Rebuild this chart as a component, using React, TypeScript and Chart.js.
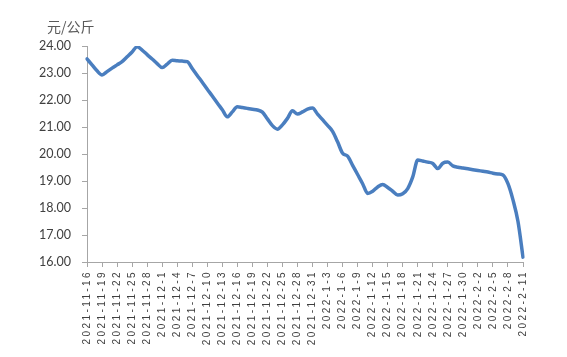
import React, { useEffect, useRef } from "react";
import { Chart, registerables } from "chart.js";

Chart.register(...registerables);

const dates: string[] = [
  "2021-11-16","2021-11-17","2021-11-18","2021-11-19","2021-11-20","2021-11-21","2021-11-22","2021-11-23","2021-11-24","2021-11-25",
  "2021-11-26","2021-11-27","2021-11-28","2021-11-29","2021-11-30",
  "2021-12-1","2021-12-2","2021-12-3","2021-12-4","2021-12-5","2021-12-6","2021-12-7","2021-12-8","2021-12-9","2021-12-10",
  "2021-12-11","2021-12-12","2021-12-13","2021-12-14","2021-12-15","2021-12-16","2021-12-17","2021-12-18","2021-12-19","2021-12-20",
  "2021-12-21","2021-12-22","2021-12-23","2021-12-24","2021-12-25","2021-12-26","2021-12-27","2021-12-28","2021-12-29","2021-12-30","2021-12-31",
  "2022-1-1","2022-1-2","2022-1-3","2022-1-4","2022-1-5","2022-1-6","2022-1-7","2022-1-8","2022-1-9","2022-1-10",
  "2022-1-11","2022-1-12","2022-1-13","2022-1-14","2022-1-15","2022-1-16","2022-1-17","2022-1-18","2022-1-19","2022-1-20",
  "2022-1-21","2022-1-22","2022-1-23","2022-1-24","2022-1-25","2022-1-26","2022-1-27","2022-1-28","2022-1-29","2022-1-30","2022-1-31",
  "2022-2-1","2022-2-2","2022-2-3","2022-2-4","2022-2-5","2022-2-6","2022-2-7","2022-2-8","2022-2-9","2022-2-10","2022-2-11",
];

const prices: number[] = [
  23.52, 23.30, 23.08, 22.93, 23.05, 23.18, 23.30, 23.42, 23.60, 23.78,
  23.97, 23.85, 23.68, 23.52, 23.35,
  23.20, 23.33, 23.47, 23.45, 23.44, 23.42, 23.17, 22.91, 22.66, 22.40,
  22.15, 21.89, 21.64, 21.38, 21.56, 21.75, 21.72, 21.69, 21.66, 21.63,
  21.55, 21.30, 21.05, 20.92, 21.08, 21.32, 21.60, 21.48, 21.56, 21.66, 21.70,
  21.48, 21.27, 21.06, 20.84, 20.45, 20.03, 19.92, 19.58, 19.24, 18.90,
  18.54, 18.62, 18.78, 18.87, 18.76, 18.62, 18.48, 18.53, 18.72, 19.15,
  19.78, 19.74, 19.70, 19.65, 19.46, 19.66, 19.70, 19.56, 19.51, 19.48, 19.45,
  19.42, 19.39, 19.36, 19.33, 19.29, 19.26, 19.22, 18.90, 18.30, 17.50, 16.18,
];

const yMin = 16;
const yMax = 24;
const yStep = 1;
const unitLabel = "元/公斤";
const labelEvery = 3;

export default function App() {
  const ref = useRef<HTMLCanvasElement | null>(null);

  useEffect(() => {
    if (!ref.current) return;

    const unitPlugin = {
      id: "unitLabel",
      afterDraw(chart: any) {
        const ctx = chart.ctx;
        ctx.save();
        ctx.font = '14px "Noto Sans CJK SC"';
        ctx.fillStyle = "#595959";
        ctx.textAlign = "left";
        ctx.textBaseline = "alphabetic";
        ctx.fillText(unitLabel, 47, 32);
        ctx.restore();
      },
    };

    const spacingPlugin = {
      id: "xLetterSpacing",
      beforeDraw(chart: any) {
        const s = chart.scales.x;
        if (s && !s.__patched) {
          const orig = s.drawLabels.bind(s);
          s.drawLabels = (area: any) => {
            const ctx = chart.ctx;
            ctx.save();
            (ctx as any).letterSpacing = "2.4px";
            orig(area);
            ctx.restore();
          };
          s.__patched = true;
        }
      },
    };

    const chart = new Chart(ref.current, {
      type: "line",
      data: {
        labels: dates,
        datasets: [
          {
            data: prices,
            borderColor: "#4A7EBF",
            borderWidth: 3.5,
            pointRadius: 0,
            fill: false,
            cubicInterpolationMode: "monotone",
            borderCapStyle: "round",
            borderJoinStyle: "round",
          },
        ],
      },
      options: {
        animation: false,
        responsive: true,
        maintainAspectRatio: false,
        layout: { padding: { top: 46, right: 44, bottom: 0, left: 0 } },
        plugins: {
          legend: { display: false },
          tooltip: { enabled: false },
          title: { display: false },
        },
        scales: {
          x: {
            type: "category",
            offset: false,
            afterFit(scale: any) {
              scale.height = 95;
            },
            grid: {
              display: true,
              drawOnChartArea: false,
              drawTicks: true,
              tickLength: 5,
              color: "#A6A6A6",
            },
            border: { display: true, color: "#A6A6A6", width: 1 },
            ticks: {
              autoSkip: false,
              maxRotation: 90,
              minRotation: 90,
              padding: 3,
              color: "#404040",
              font: { family: '"Liberation Sans", Arial, sans-serif', size: 10 },
              callback(value: any, index: number) {
                return index % labelEvery === 0 ? dates[index] : null;
              },
            },
          },
          y: {
            min: yMin,
            max: yMax,
            afterFit(scale: any) {
              scale.width = 87;
            },
            grid: {
              display: true,
              drawOnChartArea: false,
              drawTicks: true,
              tickLength: 5,
              color: "#A6A6A6",
            },
            border: { display: true, color: "#A6A6A6", width: 1 },
            ticks: {
              stepSize: yStep,
              padding: 11,
              color: "#404040",
              font: { family: "Lato, sans-serif", size: 12.5 },
              callback(value: any) {
                return Number(value).toFixed(2);
              },
            },
          },
        },
      },
      plugins: [unitPlugin, spacingPlugin],
    });

    return () => chart.destroy();
  }, []);

  return (
    <div style={{ position: "absolute", left: 0, top: 0, width: 567, height: 357, background: "#fff" }}>
      <canvas ref={ref} />
    </div>
  );
}
